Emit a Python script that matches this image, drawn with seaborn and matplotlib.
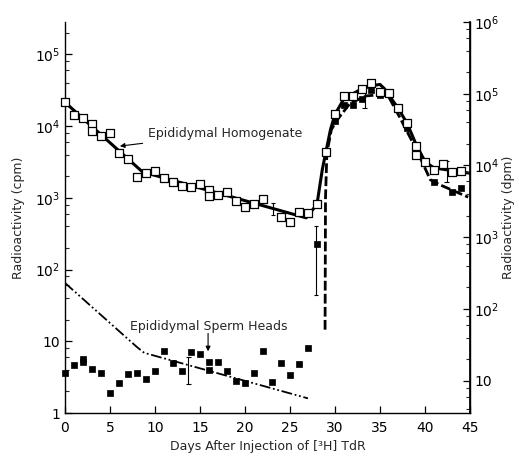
import numpy as np
import pandas as pd
import matplotlib
matplotlib.use("Agg")
import matplotlib.pyplot as plt
import seaborn as sns
from matplotlib.ticker import FixedLocator, FixedFormatter, NullFormatter

# ---------------- data ----------------
hom_days = [0, 1, 2, 3, 3, 4, 5, 6, 7, 8, 9, 10, 11, 12, 13, 14, 15, 16, 16, 17, 18,
            19, 20, 21, 22, 24, 25, 26, 27, 28, 29, 30, 31, 32, 33, 34, 35, 36, 37,
            38, 39, 39, 40, 41, 42, 43, 44]
hom_cpm = [21400, 14100, 12900, 10700, 8500, 7200, 8100, 4200, 3500, 1950, 2200, 2350,
           1860, 1660, 1450, 1410, 1550, 1290, 1050, 1100, 1200, 890, 740, 830, 955,
           540, 460, 630, 620, 810, 4400, 14500, 26300, 26300, 33100, 39800, 30200,
           28800, 17800, 11000, 5200, 3900, 3200, 2400, 3000, 2300, 2350]

hom_fit_days = [0, 8.6, 26.8, 28, 28.6, 29, 29.5, 30, 31, 32, 33, 34, 35, 35.5, 37, 38,
                39, 40, 41, 43, 45]
hom_fit_cpm = [21400, 2300, 525, 810, 2500, 4400, 8900, 14500, 24000, 28200, 33100,
               36300, 38000, 33100, 17800, 11000, 5600, 3200, 2600, 2400, 2200]

sperm_days = [0, 1, 2, 2, 3, 4, 5, 6, 7, 8, 9, 10, 11, 12, 13, 14, 15, 16, 16, 17, 18,
              19, 20, 21, 22, 23, 24, 25, 26, 27, 28, 30, 31, 32, 33, 34, 35, 38, 39,
              41, 43, 44]
sperm_cpm = [3.6, 4.7, 5.6, 5.1, 4.1, 3.6, 1.9, 2.6, 3.5, 3.6, 3.0, 3.9, 7.2, 5.0, 3.9,
             7.1, 6.6, 5.1, 4.0, 5.2, 3.9, 2.8, 2.6, 3.6, 7.4, 2.7, 5.0, 3.4, 4.8, 8.1,
             224, 11700, 19500, 19500, 24000, 31600, 27000, 9500, 5400, 1660, 1200, 1350]

sperm_fit_days = [28.9, 28.95, 29.1, 29.6, 30.2, 31.7, 33.5, 35.3, 36.0, 37.2, 39.1,
                  40.6, 41.7, 44.8]
sperm_fit_cpm = [14.5, 1000, 4170, 8900, 12000, 20900, 26300, 27500, 25100, 13200,
                 4570, 1780, 1510, 1020]

early_fit_days = [0, 8, 8.8, 27]
early_fit_cpm = [65, 8.3, 6.9, 1.6]

err_days = [13.7, 27.9, 23.1, 33.3, 42.4]
err_lo = [2.5, 44, 575, 17800, 1660]
err_hi = [6.0, 400, 850, 33900, 3300]

x_ticks = [0, 5, 10, 15, 20, 25, 30, 35, 40, 45]
left_ticks = [1, 10, 100, 1000, 10000, 100000]
left_labels = ['1', '10', '10$^2$', '10$^3$', '10$^4$', '10$^5$']
right_ticks = [10, 100, 1000, 10000, 100000, 1000000]
right_labels = ['10', '10$^2$', '10$^3$', '10$^4$', '10$^5$', '10$^6$']

# ---------------- plot ----------------
sns.set_theme(style="ticks")
plt.rcParams['font.family'] = ['DejaVu Sans']
plt.rcParams['mathtext.default'] = 'regular'

fig = plt.figure(figsize=(5.19, 4.59), dpi=100)
ax = fig.add_axes([0.1252, 0.1002, 0.7803, 0.8519])
ax.set_yscale('log')
ax.set_xlim(0, 45)
ax.set_ylim(1, 10 ** 5.45)

hom_fit = pd.DataFrame({'day': hom_fit_days, 'cpm': hom_fit_cpm})
sp_fit = pd.DataFrame({'day': sperm_fit_days, 'cpm': sperm_fit_cpm})
early_fit = pd.DataFrame({'day': early_fit_days, 'cpm': early_fit_cpm})
hom = pd.DataFrame({'day': hom_days, 'cpm': hom_cpm})
sp = pd.DataFrame({'day': sperm_days, 'cpm': sperm_cpm})

sns.lineplot(data=hom_fit, x='day', y='cpm', ax=ax, color='black', lw=2.2,
             estimator=None, sort=False, zorder=3)
sns.lineplot(data=sp_fit, x='day', y='cpm', ax=ax, color='black', lw=2.0,
             estimator=None, sort=False, linestyle=(0, (3.5, 1.2)), zorder=3)
sns.lineplot(data=early_fit, x='day', y='cpm', ax=ax, color='black', lw=1.3,
             estimator=None, sort=False, linestyle=(0, (6, 1.5, 1, 1.5, 1, 1.5)), zorder=3)

sns.scatterplot(data=sp, x='day', y='cpm', ax=ax, marker='s', s=15, color='black',
                edgecolor='black', linewidth=0.5, zorder=4, clip_on=False)
sns.scatterplot(data=hom, x='day', y='cpm', ax=ax, marker='s', s=32, facecolor='white',
                edgecolor='black', linewidth=0.9, zorder=5, clip_on=False)

for d, lo, hi in zip(err_days, err_lo, err_hi):
    ax.vlines(d, lo, hi, color='black', lw=0.8, zorder=4)
    ax.hlines([lo, hi], d - 0.25, d + 0.25, color='black', lw=0.8, zorder=4)

# annotations
ax.annotate('Epididymal Homogenate', xy=(6.1, 10 ** 3.72), xytext=(9.2, 10 ** 3.9),
            fontsize=9, va='center', ha='left',
            arrowprops=dict(arrowstyle='-|>', color='black', lw=0.8,
                            mutation_scale=7, shrinkA=2, shrinkB=0))
ax.text(7.2, 10 ** 1.2, 'Epididymal Sperm Heads', fontsize=9, va='center', ha='left')
ax.annotate('', xy=(15.9, 10 ** 0.86), xytext=(15.9, 10 ** 1.11),
            arrowprops=dict(arrowstyle='-|>', color='black', lw=0.8,
                            mutation_scale=7, shrinkA=0, shrinkB=0))

# axes styling
ax.xaxis.set_major_locator(FixedLocator(x_ticks))
ax.set_xticklabels([str(t) for t in x_ticks])
ax.yaxis.set_major_locator(FixedLocator(left_ticks))
ax.yaxis.set_major_formatter(FixedFormatter(left_labels))
minor_left = [k * 10 ** n for n in range(0, 6) for k in (2, 4, 6, 8)]
ax.yaxis.set_minor_locator(FixedLocator(minor_left))
ax.yaxis.set_minor_formatter(NullFormatter())
ax.tick_params(axis='both', which='major', direction='in', length=5, width=0.9,
               labelsize=10, colors='black')
ax.tick_params(axis='y', which='minor', direction='in', length=3, width=0.8)
ax.tick_params(axis='x', which='major', pad=6)
ax.spines['top'].set_visible(False)
for s in ('left', 'bottom', 'right'):
    ax.spines[s].set_color('black')
    ax.spines[s].set_linewidth(1.0)
ax.set_xlabel('Days After Injection of [³H] TdR', fontsize=9, labelpad=3)
ax.set_ylabel('Radioactivity (cpm)', fontsize=9, labelpad=7)

ax2 = ax.twinx()
ax2.set_yscale('log')
ax2.set_ylim(10 ** 0.55, 1e6)
ax2.yaxis.set_major_locator(FixedLocator(right_ticks))
ax2.yaxis.set_major_formatter(FixedFormatter(right_labels))
minor_right = [k * 10 ** n for n in range(0, 7) for k in (2, 4, 6, 8) if 10 ** 0.55 < k * 10 ** n < 1e6]
ax2.yaxis.set_minor_locator(FixedLocator(minor_right))
ax2.yaxis.set_minor_formatter(NullFormatter())
ax2.tick_params(axis='y', which='major', direction='in', length=5, width=0.9,
                labelsize=10, colors='black', pad=3)
ax2.tick_params(axis='y', which='minor', direction='in', length=3, width=0.8)
ax2.spines['top'].set_visible(False)
ax2.spines['left'].set_visible(False)
ax2.spines['bottom'].set_visible(False)
ax2.spines['right'].set_color('black')
ax2.set_ylabel('Radioactivity (dpm)', fontsize=9, rotation=90, labelpad=2)

fig.savefig('out.png', dpi=100, facecolor='white')
